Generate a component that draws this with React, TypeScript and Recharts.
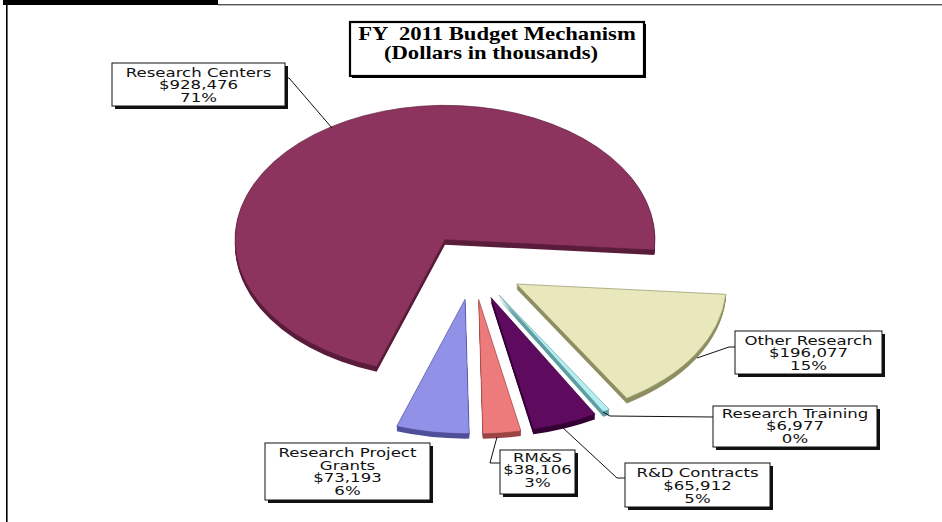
import React from 'react';
import { PieChart, Pie, Cell, Sector } from 'recharts';

const categories = [
  'Research Centers',
  'Research Project Grants',
  'RM&S',
  'R&D Contracts',
  'Research Training',
  'Other Research',
];
const amounts = [928476, 73193, 38106, 65912, 6977, 196077];
const shareLabels = ['71%', '6%', '3%', '5%', '0%', '15%'];

const topColors = ['#8c345e', '#9191e8', '#ee7b7b', '#5e0a5e', '#b4eef0', '#e8e8bc'];
const sideColors = ['#5a1d3b', '#4f4f9a', '#9c4444', '#340234', '#5f9ea2', '#8e8e62'];

const W = 942;
const H = 522;
const CX = 473;
const CY = 267;
const R = 210;
const TILT = 0.64; // squash for the 3d look
const EXPLODE = 51;
const DEPTH = 5;

const rows = categories.map((name, i) => ({ name, value: amounts[i] }));

// label boxes: where they sit + leader lines
const boxes = [
  { x: 112, y: 63, w: 173, h: 43, base: 77, step: 12.3, lead: [[285, 78], [289, 78], [332, 128]] },
  { x: 265, y: 443, w: 165, h: 57, base: 457, step: 12.6, wrap: true },
  { x: 500, y: 450, w: 75, h: 44, base: 461.5, step: 12.6, lead: [[500, 463], [490, 463], [497, 437]] },
  { x: 625, y: 463, w: 145, h: 44, base: 477, step: 12.8, lead: [[625, 478], [617, 478], [562, 427]] },
  { x: 713, y: 406, w: 164, h: 41, base: 418, step: 12.3, lead: [[713, 417], [610, 416], [603, 412]] },
  { x: 735, y: 331, w: 147, h: 43, base: 345, step: 12.3, lead: [[735, 347], [729, 347], [697, 358]] },
];

function TiltedSlice(props: any) {
  const { cx, cy, outerRadius, startAngle, endAngle, fill } = props;
  const mid = ((startAngle + endAngle) / 2) * (Math.PI / 180);
  const ox = EXPLODE * Math.cos(mid);
  const oy = -EXPLODE * Math.sin(mid);
  const side = sideColors[topColors.indexOf(fill)] || '#333';
  const tilt = (d: number) => `translate(0 ${cy + d}) scale(1 ${TILT}) translate(${ox} ${oy - cy})`;
  const layers = [];
  for (let d = DEPTH; d >= 1; d--) layers.push(d);
  return (
    <g>
      {layers.map((d) => (
        <g key={d} transform={tilt(d)}>
          <Sector cx={cx} cy={cy} innerRadius={0} outerRadius={outerRadius} startAngle={startAngle} endAngle={endAngle} fill={side} stroke="none" />
        </g>
      ))}
      <g transform={tilt(0)}>
        <Sector cx={cx} cy={cy} innerRadius={0} outerRadius={outerRadius} startAngle={startAngle} endAngle={endAngle} fill={fill} stroke={side} strokeWidth={0.8} />
      </g>
    </g>
  );
}

function labelLines(i: number) {
  const name = categories[i];
  let nameLines = [name];
  if (boxes[i].wrap) {
    const cut = name.lastIndexOf(' ');
    nameLines = [name.slice(0, cut), name.slice(cut + 1)];
  }
  return [...nameLines, '$' + amounts[i].toLocaleString('en-US'), shareLabels[i]];
}

export default function App() {
  return (
    <div style={{ position: 'absolute', left: 0, top: 0, width: W, height: H, background: '#fff' }}>
      <PieChart width={W} height={H} margin={{ top: 0, right: 0, bottom: 0, left: 0 }}>
        <Pie
          data={rows}
          dataKey="value"
          nameKey="name"
          cx={CX}
          cy={CY}
          innerRadius={0}
          outerRadius={R}
          startAngle={-4.4}
          endAngle={355.6}
          stroke="none"
          label={false}
          labelLine={false}
          isAnimationActive={false}
          shape={TiltedSlice}
          activeShape={TiltedSlice}
          inactiveShape={TiltedSlice}
        >
          {rows.map((r, i) => (
            <Cell key={r.name} fill={topColors[i]} />
          ))}
        </Pie>
      </PieChart>

      <svg width={W} height={H} style={{ position: 'absolute', left: 0, top: 0, pointerEvents: 'none' }}>
        {/* frame bits */}
        <rect x={3} y={0} width={215} height={5} fill="#000" />
        <rect x={218} y={4} width={724} height={1.4} fill="#555" />
        <rect x={6} y={5} width={1.6} height={517} fill="#000" />

        {/* title */}
        <rect x={352} y={24} width={294} height={54} fill="#000" />
        <rect x={350} y={22} width={294} height={54} fill="#fff" stroke="#000" strokeWidth={2.2} />
        <g fontFamily="'Liberation Serif', serif" fontWeight="bold" fontSize={18} fill="#000" textAnchor="middle">
          <text transform="translate(497 40) scale(1.26 1)" xmlSpace="preserve">FY  2011 Budget Mechanism</text>
          <text transform="translate(491 58.5) scale(1.26 1)">(Dollars in thousands)</text>
        </g>

        {/* leaders + boxes */}
        {boxes.map((b, i) => (
          <g key={categories[i]}>
            {b.lead && (
              <polyline points={b.lead.map((p) => p.join(',')).join(' ')} fill="none" stroke="#111" strokeWidth={1} />
            )}
            <rect x={b.x + 3} y={b.y + 3} width={b.w} height={b.h} fill="#111" />
            <rect x={b.x} y={b.y} width={b.w} height={b.h} fill="#fff" stroke="#111" strokeWidth={1} />
            {labelLines(i).map((t, j) => (
              <text
                key={j}
                transform={`translate(${b.x + b.w / 2} ${b.base + j * b.step}) scale(1.38 1)`}
                textAnchor="middle"
                fontFamily="'DejaVu Sans', sans-serif"
                fontSize={12}
                fill="#111"
              >
                {t}
              </text>
            ))}
          </g>
        ))}
      </svg>
    </div>
  );
}
